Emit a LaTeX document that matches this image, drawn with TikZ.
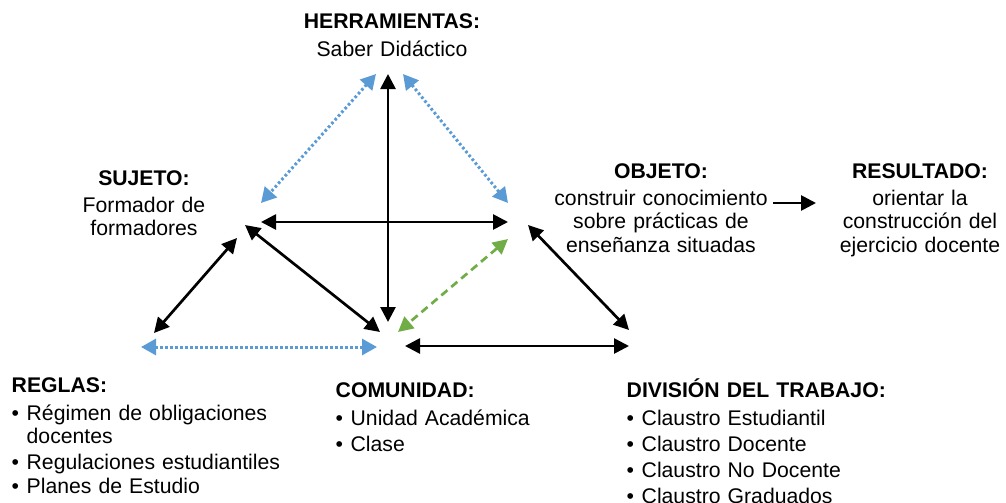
\documentclass[tikz,border=0pt]{standalone}
\usepackage{fontspec}
\setmainfont{Liberation Sans}
\usetikzlibrary{arrows.meta}
\definecolor{dblue}{HTML}{5B9BD5}
\definecolor{dgreen}{HTML}{70AD47}
\newcommand{\bul}{\makebox[15pt][l]{•}}
\begin{document}
\begin{tikzpicture}[x=1pt,y=-1pt,
  txt/.style={inner sep=0pt, font=\fontsize{21.2}{23.5}\selectfont},
  cblock/.style={txt, text width=260pt, align=center, anchor=base},
  lblock/.style={txt, text width=320pt, align=left, anchor=base west},
  blk/.style={line width=2.7pt, black, {Triangle[length=15pt,width=15pt]}-{Triangle[length=15pt,width=15pt]}},
  blu/.style={line width=3pt, dblue, dash pattern=on 2.6pt off 2.4pt, {Triangle[length=15pt,width=16pt]}-{Triangle[length=15pt,width=16pt]}},
  grn/.style={line width=2.7pt, dgreen, dash pattern=on 8pt off 5pt, {Triangle[length=15pt,width=15pt]}-{Triangle[length=15pt,width=15pt]}},
  one/.style={line width=2.7pt, black, -{Triangle[length=15pt,width=15pt]}}
]
\useasboundingbox (0,0) rectangle (1006,503);

% text blocks
\node[cblock] (herr) at (392,29) {\textbf{HERRAMIENTAS:}\\[4.5pt] Saber Didáctico};
\node[cblock] (suj) at (144,185) {\textbf{SUJETO:}\\[3.5pt] Formador de\\ formadores};
\node[cblock] (obj) at (661,178) {\textbf{OBJETO:}\\[3.5pt] construir conocimiento\\ sobre prácticas de\\ enseñanza situadas};
\node[cblock] (res) at (920,178) {\textbf{RESULTADO:}\\[3.5pt] orientar la\\ construcción del\\ ejercicio docente};
\node[lblock] (reg) at (11.5,392) {\textbf{REGLAS:}\\[4.5pt] \bul Régimen de obligaciones\\[-0.5pt] \hphantom{\bul}docentes\\[3pt] \bul Regulaciones estudiantiles\\[0pt] \bul Planes de Estudio};
\node[lblock] (com) at (335.5,397) {\textbf{COMUNIDAD:}\\[4.5pt] \bul Unidad Académica\\[3pt] \bul Clase};
\node[lblock] (div) at (626.5,397) {\textbf{DIVISIÓN DEL TRABAJO:}\\[4.5pt] \bul Claustro Estudiantil\\[2.5pt] \bul Claustro Docente\\[2.5pt] \bul Claustro No Docente\\[2.5pt] \bul Claustro Graduados};

% connector end points
\coordinate (vT) at (388,74);
\coordinate (vB) at (388,322);
\coordinate (bl1) at (376,74);
\coordinate (bl2) at (261,203);
\coordinate (br1) at (403,74);
\coordinate (br2) at (508,203);
\coordinate (hL) at (261,222);
\coordinate (hR) at (508,222);
\coordinate (sc1) at (245,225);
\coordinate (sc2) at (380,332);
\coordinate (rs1) at (154,333);
\coordinate (rs2) at (237,238);
\coordinate (g1) at (508,239);
\coordinate (g2) at (398,332);
\coordinate (od1) at (528,225);
\coordinate (od2) at (629,330);
\coordinate (bb1) at (141,347);
\coordinate (bb2) at (377,347);
\coordinate (kb1) at (405,346);
\coordinate (kb2) at (629,346);
\coordinate (or1) at (773,203);
\coordinate (or2) at (816,203);

% connectors
\draw[blk] (vT) -- (vB);
\draw[blu] (bl1) -- (bl2);
\draw[blu] (br1) -- (br2);
\draw[blk] (hL) -- (hR);
\draw[blk] (sc1) -- (sc2);
\draw[blk] (rs1) -- (rs2);
\draw[grn] (g1) -- (g2);
\draw[blk] (od1) -- (od2);
\draw[blu] (bb1) -- (bb2);
\draw[blk] (kb1) -- (kb2);
\draw[one] (or1) -- (or2);
\end{tikzpicture}
\end{document}
